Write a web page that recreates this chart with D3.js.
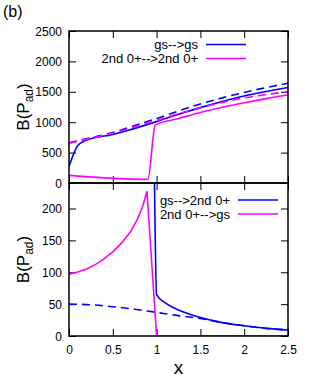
<!DOCTYPE html>
<html>
<head>
<meta charset="utf-8">
<script src="https://cdn.jsdelivr.net/npm/d3@7"></script>
<style>
body { margin: 0; background: #fff; }
text { font-family: "Liberation Sans", Arial, sans-serif; }
</style>
</head>
<body>
<div id="chart"></div>
<script>

// top panel : B(Pad) 0 -> 0 transitions
let top_gs_gs_x = [0, 0.1, 0.18, 0.5, 0.66, 1.0, 1.25, 1.5, 1.75, 2.0, 2.25, 2.5]
let top_gs_gs_y = [270, 616, 693, 800, 860, 1010, 1130, 1240, 1340, 1430, 1505, 1572]

let top_gs_gs_dash_x = [0, 0.25, 0.5, 0.75, 1.0, 1.25, 1.5, 1.75, 2.0, 2.25, 2.5]
let top_gs_gs_dash_y = [660, 745, 830, 945, 1060, 1185, 1300, 1400, 1490, 1570, 1640]

let top_0_0_x = [0, 0.9, 0.985, 1.25, 1.5, 1.75, 2.0, 2.25, 2.5]
let top_0_0_y = [125, 60, 955, 1060, 1160, 1245, 1320, 1388, 1447]

let top_0_0_dash_x = [0, 0.25, 0.5, 0.75, 1.0, 1.25, 1.5, 1.75, 2.0, 2.25, 2.5]
let top_0_0_dash_y = [656, 735, 820, 925, 1030, 1140, 1240, 1325, 1400, 1455, 1502]

// bottom panel : cross transitions
let bot_gs_0_x = [0.975, 1.0, 1.1, 1.2, 1.3, 1.5, 1.75, 2.0, 2.25, 2.5]
let bot_gs_0_y = [250, 65, 52, 44, 38, 29, 21, 16, 12, 9.5]

let bot_gs_0_dash_x = [0, 0.25, 0.5, 0.75, 1.0, 1.25, 1.5, 1.75, 2.0, 2.25, 2.5]
let bot_gs_0_dash_y = [50, 49, 46, 42, 37, 32, 27.5, 21, 16, 12, 9.5]

let bot_0_gs_x = [0, 0.1, 0.2, 0.3, 0.4, 0.5, 0.6, 0.7, 0.78, 0.84, 0.89, 1.0, 1.5, 2.0, 2.5]
let bot_0_gs_y = [97, 100.5, 105, 112, 121, 132, 146, 163, 183, 203, 227, 0, 0, 0, 0]

let x_ticks = [0, 0.5, 1, 1.5, 2, 2.5]
let top_y_ticks = [0, 500, 1000, 1500, 2000, 2500]
let bot_y_ticks = [0, 50, 100, 150, 200]

let blue = '#0000ff'
let magenta = '#ff00ff'

let width = 313, height = 382
let left = 69, right = 288
let top_top = 31, mid = 183, bot_bottom = 336
let tick_len = 7

let svg = d3.select('#chart').append('svg')
  .attr('width', width)
  .attr('height', height)

let x = d3.scaleLinear().domain([0, 2.5]).range([left, right])
let y_top = d3.scaleLinear().domain([0, 2500]).range([mid, top_top])
let y_bot = d3.scaleLinear().domain([0, 240]).range([bot_bottom, mid])

function zip(xs, ys) {
  return xs.map((d, i) => [d, ys[i]])
}

function draw_panel(name, y, y_ticks, series, show_x_labels) {

  let g = svg.append('g').attr('class', name)

  let y0 = y.range()[0], y1 = y.range()[1]

  svg.append('clipPath').attr('id', 'clip-' + name)
    .append('rect')
    .attr('x', left).attr('y', y1)
    .attr('width', right - left).attr('height', y0 - y1)

  // ticks, mirrored on all sides, pointing inward
  let axis_bottom = d3.axisBottom(x).tickValues(x_ticks).tickSizeInner(-tick_len).tickSizeOuter(0)
    .tickFormat(show_x_labels ? d3.format('') : '')
  let gb = g.append('g').attr('transform', 'translate(0,' + y0 + ')').call(axis_bottom)

  let axis_top = d3.axisTop(x).tickValues(x_ticks).tickSizeInner(-tick_len).tickSizeOuter(0).tickFormat('')
  let gt = g.append('g').attr('transform', 'translate(0,' + y1 + ')').call(axis_top)

  let axis_left = d3.axisLeft(y).tickValues(y_ticks).tickSizeInner(-tick_len).tickSizeOuter(0)
    .tickFormat(d3.format('d'))
  let gl = g.append('g').attr('transform', 'translate(' + left + ',0)').call(axis_left)

  let axis_right = d3.axisRight(y).tickValues(y_ticks).tickSizeInner(-tick_len).tickSizeOuter(0).tickFormat('')
  let gr = g.append('g').attr('transform', 'translate(' + right + ',0)').call(axis_right)

  g.selectAll('.domain').remove()
  g.selectAll('.tick line').attr('stroke', '#000').attr('stroke-width', 1)
  g.selectAll('.tick text')
    .attr('fill', '#000')
    .style('font-size', '12px')
    .style('font-family', '"Liberation Sans", Arial, sans-serif')

  gl.selectAll('.tick text').attr('x', -7).attr('dy', '0.34em')
  gb.selectAll('.tick text').attr('y', 9)

  let lines_g = g.append('g').attr('clip-path', 'url(#clip-' + name + ')')

  series.forEach((s) => {
    let line = d3.line()
      .x(d => x(d[0]))
      .y(d => y(d[1]))
      .curve(s.linear ? d3.curveLinear : d3.curveMonotoneX)

    lines_g.append('path')
      .datum(zip(s.xs, s.ys))
      .attr('d', line)
      .attr('fill', 'none')
      .attr('stroke', s.color)
      .attr('stroke-width', 1.6)
      .attr('stroke-dasharray', s.dash ? '8,5' : null)
  })

  g.append('rect')
    .attr('x', left).attr('y', y1)
    .attr('width', right - left).attr('height', y0 - y1)
    .attr('fill', 'none')
    .attr('stroke', '#000')
    .attr('stroke-width', 1.5)

  return g
}

let g_top = draw_panel('top', y_top, top_y_ticks, [
  {xs: top_gs_gs_x, ys: top_gs_gs_y, color: blue, dash: false},
  {xs: top_0_0_x, ys: top_0_0_y, color: magenta, dash: false},
  {xs: top_gs_gs_dash_x, ys: top_gs_gs_dash_y, color: blue, dash: true},
  {xs: top_0_0_dash_x, ys: top_0_0_dash_y, color: magenta, dash: true}
], false)

let g_bot = draw_panel('bot', y_bot, bot_y_ticks, [
  {xs: bot_gs_0_x, ys: bot_gs_0_y, color: blue, dash: false},
  {xs: bot_gs_0_dash_x, ys: bot_gs_0_dash_y, color: blue, dash: true},
  {xs: bot_0_gs_x, ys: bot_0_gs_y, color: magenta, dash: false, linear: true}
], true)

// legends
function legend(g, items, text_right, y_start) {
  items.forEach((it, i) => {
    let yy = y_start + i * 14
    g.append('text')
      .attr('x', text_right).attr('y', yy)
      .attr('dy', '0.35em')
      .attr('text-anchor', 'end')
      .style('font-size', '13px')
      .text(it.label)
    g.append('line')
      .attr('x1', text_right + 8).attr('x2', text_right + 48)
      .attr('y1', yy).attr('y2', yy)
      .attr('stroke', it.color)
      .attr('stroke-width', 1.6)
  })
}

legend(g_top, [{label: 'gs-->gs', color: blue}, {label: '2nd 0+-->2nd 0+', color: magenta}], 198, 44.5)
legend(g_bot, [{label: 'gs-->2nd 0+', color: blue}, {label: '2nd 0+-->gs', color: magenta}], 230, 200)

// axis labels
function y_label(cy) {
  let t = svg.append('text')
    .attr('transform', 'translate(29,' + cy + ') rotate(-90)')
    .attr('text-anchor', 'middle')
    .style('font-size', '17px')
  t.append('tspan').text('B(P')
  t.append('tspan').attr('dy', 4).style('font-size', '12px').text('ad')
  t.append('tspan').attr('dy', -4).text(')')
}

y_label((top_top + mid) / 2)
y_label((mid + bot_bottom) / 2)

svg.append('text')
  .attr('x', (left + right) / 2).attr('y', 374)
  .attr('text-anchor', 'middle')
  .style('font-size', '19px')
  .text('x')

svg.append('text')
  .attr('x', 3).attr('y', 17)
  .style('font-size', '16px')
  .text('(b)')

</script>
</body>
</html>
